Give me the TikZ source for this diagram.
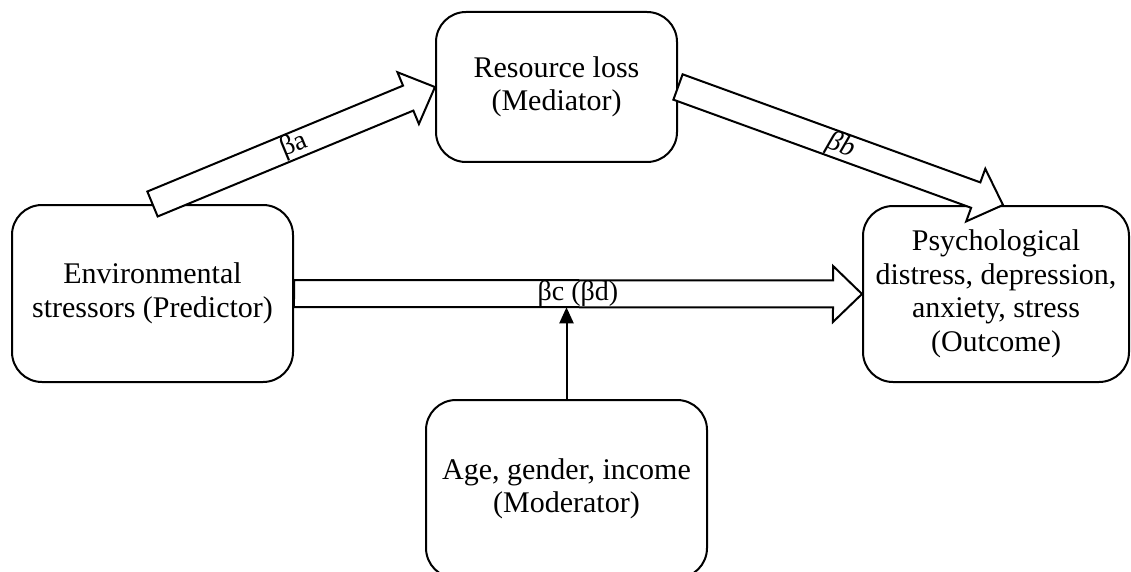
\documentclass[tikz,border=0pt]{standalone}
\usepackage{fontspec}
\setmainfont{Liberation Serif}
\usetikzlibrary{arrows.meta,calc}
\tikzset{
  varbox/.style={draw=black,fill=white,rounded corners=30pt,line width=2pt,align=center,
    font=\fontsize{30}{33.5}\selectfont,inner sep=0pt},
  fat/.style={draw=black,fill=white,line width=2pt,line join=miter},
  blbl/.style={font=\fontsize{28}{30}\selectfont,inner sep=0pt},
  arr/.style={-{Triangle[length=16pt,width=14pt]},line width=2pt},
}
% hollow block arrow from #1 to #2
\newcommand\fatarrow[2]{%
  \draw[fat] let \p1=(#1), \p2=(#2), \p3=($(\p2)-(\p1)$),
    \n1={veclen(\x3,\y3)}, \n2={atan2(\y3,\x3)} in
    [shift={(\p1)},rotate=\n2]
    (0,-13.5) -- (\n1-29,-13.5) -- (\n1-29,-28) -- (\n1,0) -- (\n1-29,28) -- (\n1-29,13.5) -- (0,13.5) -- cycle;}

\begin{document}
\begin{tikzpicture}[x=1pt,y=-1pt]
  \useasboundingbox (0,0) rectangle (1131,572);
  \node[varbox,minimum width=281pt,minimum height=177pt] (env) at (152.5,293.5) {Environmental\\stressors (Predictor)};
  \node[varbox,minimum width=241pt,minimum height=150pt] (res) at (556.5,87) {Resource loss\\(Mediator)};
  \node[varbox,minimum width=266pt,minimum height=176pt] (psy) at (996,294) {Psychological\\distress, depression,\\anxiety, stress\\(Outcome)};
  \node[varbox,minimum width=281pt,minimum height=178pt] (mod) at (566.5,489) {Age, gender, income\\(Moderator)};
  \coordinate (shaftlo) at ($(env.east)!0.5!(psy.west)+(0,13.5)$);
  % block arrows
  \fatarrow{env.north}{res.west}
  \fatarrow{res.east}{[xshift=7pt]psy.north}
  \fatarrow{env.east}{psy.west}
  \path (env.north) -- (res.west) node[midway,sloped,blbl] {βa};
  \path (res.east) -- ([xshift=7pt]psy.north) node[midway,sloped,blbl] {\textit{βb}};
  \path (env.east) -- (psy.west) node[midway,blbl] {βc (βd)};
  \draw[arr] (mod.north) -- (mod.north |- shaftlo);
\end{tikzpicture}
\end{document}
